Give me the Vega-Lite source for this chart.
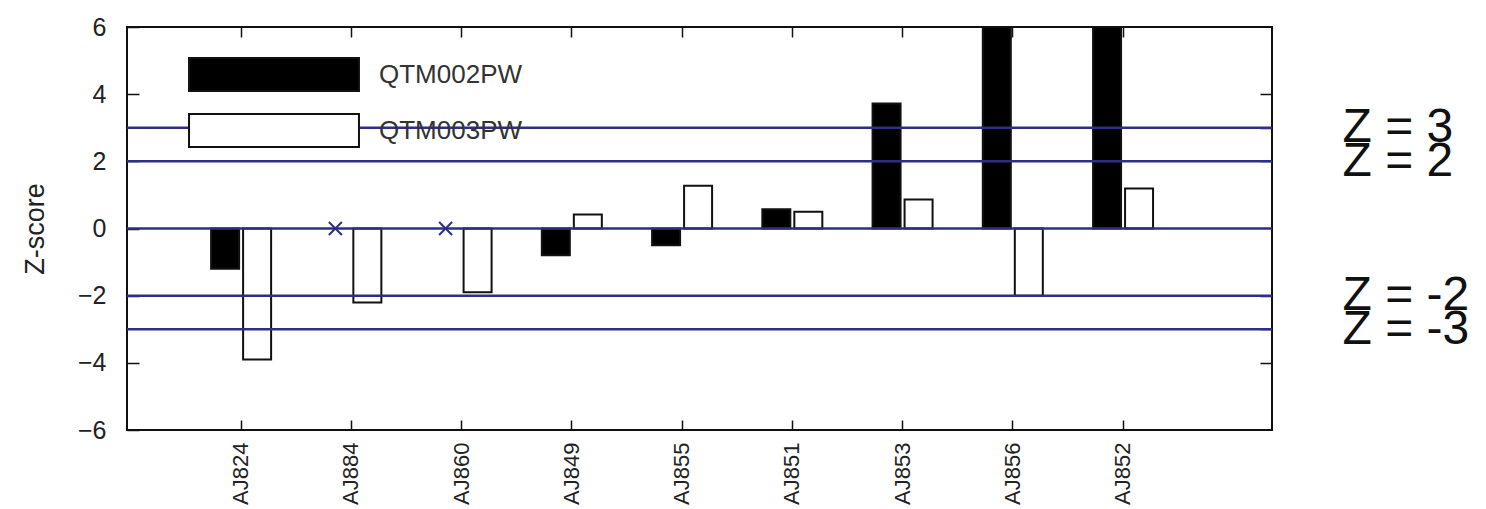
{
  "$schema": "https://vega.github.io/schema/vega-lite/v6.json",
  "autosize": {"type": "none"},
  "padding": {"left": 127, "top": 27, "right": 214, "bottom": 79},
  "width": 1145,
  "height": 403,
  "background": "white",
  "config": {
    "font": "Liberation Sans",
    "view": {"stroke": "#111", "strokeWidth": 2},
    "axis": {"domain": false, "grid": false, "labelColor": "#222", "titleColor": "#222", "tickColor": "#111", "tickWidth": 1.5}
  },
  "datasets": {
    "bars": [
      {"marker": "AJ824", "series": "QTM002PW", "z": -1.2},
      {"marker": "AJ824", "series": "QTM003PW", "z": -3.9},
      {"marker": "AJ884", "series": "QTM002PW", "z": null},
      {"marker": "AJ884", "series": "QTM003PW", "z": -2.2},
      {"marker": "AJ860", "series": "QTM002PW", "z": null},
      {"marker": "AJ860", "series": "QTM003PW", "z": -1.9},
      {"marker": "AJ849", "series": "QTM002PW", "z": -0.8},
      {"marker": "AJ849", "series": "QTM003PW", "z": 0.42},
      {"marker": "AJ855", "series": "QTM002PW", "z": -0.5},
      {"marker": "AJ855", "series": "QTM003PW", "z": 1.27},
      {"marker": "AJ851", "series": "QTM002PW", "z": 0.57},
      {"marker": "AJ851", "series": "QTM003PW", "z": 0.5},
      {"marker": "AJ853", "series": "QTM002PW", "z": 3.72},
      {"marker": "AJ853", "series": "QTM003PW", "z": 0.86},
      {"marker": "AJ856", "series": "QTM002PW", "z": 6},
      {"marker": "AJ856", "series": "QTM003PW", "z": -2.0},
      {"marker": "AJ852", "series": "QTM002PW", "z": 6},
      {"marker": "AJ852", "series": "QTM003PW", "z": 1.19}
    ],
    "lines": [
      {"z": 3}, {"z": 2}, {"z": 0}, {"z": -2}, {"z": -3}
    ]
  },
  "resolve": {"axis": {"x": "independent", "y": "independent"}},
  "layer": [
    {
      "data": {"name": "bars"},
      "transform": [{"filter": "datum.z !== null"}],
      "mark": {"type": "bar", "stroke": "#111", "strokeWidth": 2},
      "encoding": {
        "x": {
          "field": "marker", "type": "nominal", "sort": null,
          "scale": {"domain": ["AJ824","AJ884","AJ860","AJ849","AJ855","AJ851","AJ853","AJ856","AJ852"], "paddingInner": 0, "paddingOuter": 0.693, "align": 0.386},
          "axis": {"orient": "bottom", "title": null, "labelAngle": 270, "labelFontSize": 22, "labelPadding": 12, "tickSize": 10, "offset": -10, "labelColor": "#222"}
        },
        "xOffset": {
          "field": "series", "type": "nominal",
          "scale": {"domain": ["QTM002PW","QTM003PW"], "paddingInner": 0.125, "paddingOuter": 0.785}
        },
        "y": {
          "field": "z", "type": "quantitative",
          "scale": {"domain": [-6, 6], "nice": false, "zero": false},
          "axis": {"orient": "left", "title": "Z-score", "titleFontSize": 27, "titleFontWeight": "normal", "titlePadding": 28, "values": [-6,-4,-2,0,2,4,6], "labelFontSize": 25, "labelPadding": 21, "tickSize": 12, "offset": -12}
        },
        "fill": {
          "field": "series", "type": "nominal",
          "scale": {"domain": ["QTM002PW","QTM003PW"], "range": ["#000000","#ffffff"]},
          "legend": {
            "orient": "none", "legendX": 129.5, "legendY": 30, "title": null, "padding": 0,
            "symbolType": "M-5.15,-1H5.15V1H-5.15Z", "symbolSize": 1089,
            "symbolStrokeColor": "#111", "symbolStrokeWidth": 2, "symbolOpacity": 1,
            "labelOffset": 87.5, "labelFontSize": 26, "labelColor": "#333", "rowPadding": 15, "labelLimit": 300
          }
        }
      }
    },
    {
      "data": {"name": "lines"},
      "mark": {"type": "rule", "color": "#2e2e88", "strokeWidth": 2.5},
      "encoding": {
        "y": {
          "field": "z", "type": "quantitative",
          "scale": {"domain": [-6, 6], "nice": false, "zero": false},
          "axis": {"orient": "right", "title": null, "values": [4, 3, 2, -2, -3, -4], "labelExpr": "datum.value == 4 || datum.value == -4 ? '' : 'Z = ' + datum.value", "labelFontSize": 48, "labelColor": "#111", "labelPadding": 70, "tickSize": 12, "offset": -12, "labelOverlap": false, "labelBound": false, "labelFlush": false, "labelBaseline": "middle"}
        }
      }
    },
    {
      "data": {"name": "bars"},
      "transform": [{"filter": "datum.z === null"}],
      "mark": {"type": "point", "shape": "M-1,-1L1,1M-1,1L1,-1", "filled": false, "size": 169, "strokeWidth": 2, "color": "#2e2e88", "opacity": 1},
      "encoding": {
        "x": {
          "field": "marker", "type": "nominal", "sort": null,
          "scale": {"domain": ["AJ824","AJ884","AJ860","AJ849","AJ855","AJ851","AJ853","AJ856","AJ852"], "paddingInner": 0, "paddingOuter": 0.693, "align": 0.386},
          "axis": {"orient": "top", "title": null, "labels": false, "tickSize": 10, "offset": -10}
        },
        "xOffset": {
          "field": "series", "type": "nominal",
          "scale": {"domain": ["QTM002PW","QTM003PW"], "paddingInner": 0.125, "paddingOuter": 0.785}
        },
        "y": {"datum": 0, "type": "quantitative", "axis": null}
      }
    }
  ]
}
